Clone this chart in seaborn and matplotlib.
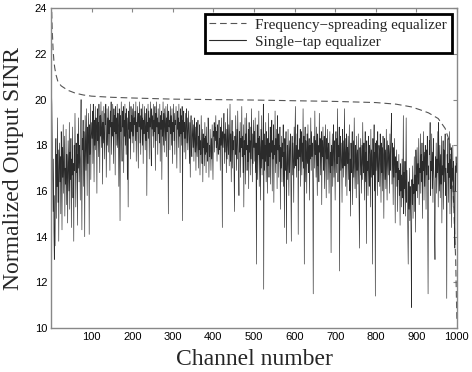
import numpy as np
import pandas as pd
import seaborn as sns
import matplotlib
matplotlib.use('Agg')
from matplotlib import pyplot as plt
from matplotlib.ticker import MultipleLocator

# frequency-spreading equalizer (dashed curve), read at selected channels
spread_ch = [1, 2, 3, 4, 5, 7, 9, 12, 17, 25, 41, 60, 80, 100, 150, 200, 300, 400, 500,
             600, 700, 800, 850, 888, 910, 930, 954, 971, 983, 991, 997, 1000]
spread_sinr = [24.3, 23.6, 23.0, 22.6, 22.2, 21.7, 21.4, 21.1, 20.78, 20.6, 20.41, 20.28, 20.2,
               20.15, 20.1, 20.07, 20.02, 20.0, 19.98, 19.95, 19.92, 19.87, 19.8, 19.68, 19.55,
               19.42, 19.17, 18.74, 18.1, 15.9, 13.0, 10.3]

# single-tap equalizer, one value per channel (blocks of 100 channels)
single_001 = [20.5, 19.8, 18.2, 16.5, 15.1, 17.4, 14.2, 13.0, 15.8, 13.6,
              16.9, 18.3, 14.8, 17.6, 16.2, 19.2, 15.5, 17.8, 13.8, 16.9,
              18.1, 16.4, 17.5, 15.0, 18.6, 17.2, 14.3, 17.9, 16.6, 18.9,
              15.9, 17.3, 18.4, 14.9, 17.0, 16.3, 18.7, 15.4, 17.6, 16.8,
              14.6, 18.2, 17.1, 16.0, 19.0, 15.2, 17.7, 16.5, 18.3, 14.4,
              17.4, 16.7, 18.8, 15.7, 17.2, 13.8, 18.0, 16.9, 19.4, 17.3,
              15.3, 18.1, 16.8, 17.6, 14.5, 18.5, 17.0, 19.2, 16.4, 18.0,
              17.4, 15.6, 18.7, 20.0, 17.1, 14.3, 18.3, 17.8, 19.1, 16.2,
              18.6, 17.5, 14.0, 19.3, 18.0, 16.9, 19.6, 17.7, 15.8, 18.8,
              17.2, 19.4, 18.1, 14.1, 18.9, 17.6, 19.8, 16.5, 18.4, 19.0]
single_101 = [18.3, 19.5, 17.2, 19.8, 18.6, 16.4, 19.1, 18.0, 19.7, 17.8,
              19.2, 18.5, 15.9, 19.6, 18.2, 19.0, 17.5, 19.8, 18.7, 16.8,
              19.3, 18.4, 19.9, 17.9, 18.8, 19.5, 16.3, 19.0, 18.1, 19.7,
              18.6, 17.4, 19.4, 18.9, 19.8, 16.6, 18.3, 19.6, 18.0, 19.2,
              17.7, 19.7, 18.5, 19.1, 16.9, 19.5, 18.8, 19.9, 17.6, 19.0,
              18.4, 19.8, 18.9, 17.2, 19.6, 18.6, 19.3, 16.7, 19.7, 18.5,
              19.2, 18.0, 19.8, 17.9, 19.4, 18.7, 16.2, 19.6, 18.9, 14.7,
              19.3, 18.6, 19.9, 18.2, 17.3, 19.5, 18.8, 19.7, 16.8, 19.1,
              18.4, 19.8, 18.0, 19.4, 17.6, 19.6, 18.9, 16.5, 19.2, 15.3,
              19.5, 18.7, 19.9, 18.3, 19.0, 17.4, 19.7, 18.6, 19.3, 18.1]
single_201 = [19.6, 18.4, 19.8, 17.7, 19.2, 18.9, 19.5, 18.2, 19.9, 17.3,
              19.0, 18.6, 19.7, 18.3, 17.0, 19.4, 18.8, 19.9, 18.1, 19.3,
              17.6, 19.6, 18.7, 19.2, 18.0, 19.8, 17.2, 19.1, 18.5, 19.7,
              18.9, 17.8, 19.4, 18.2, 19.6, 15.8, 19.0, 18.6, 19.8, 18.3,
              19.5, 17.4, 19.2, 18.8, 19.9, 18.0, 17.1, 19.6, 18.7, 19.3,
              18.4, 19.8, 17.9, 19.1, 18.6, 19.7, 16.9, 19.4, 18.2, 19.9,
              18.8, 19.2, 17.6, 19.6, 18.5, 19.0, 18.1, 19.8, 17.3, 19.3,
              18.7, 19.5, 16.5, 19.1, 18.4, 19.9, 18.0, 19.4, 17.7, 19.6,
              18.9, 18.2, 19.7, 17.5, 19.2, 18.6, 19.8, 18.3, 15.0, 19.5,
              18.8, 19.1, 17.8, 19.7, 18.5, 19.3, 18.0, 19.6, 17.2, 19.0]
single_301 = [18.6, 19.8, 18.2, 19.4, 17.6, 19.1, 18.9, 19.7, 18.3, 17.0,
              19.5, 18.7, 19.2, 17.9, 19.8, 18.4, 19.0, 16.8, 19.6, 18.5,
              19.3, 18.0, 19.7, 14.7, 19.1, 18.6, 19.5, 17.7, 19.0, 18.3,
              19.4, 17.4, 18.9, 19.6, 18.1, 19.2, 17.8, 18.7, 19.5, 18.4,
              17.2, 19.0, 16.6, 18.8, 19.3, 18.0, 17.5, 19.1, 18.5, 17.9,
              18.9, 17.3, 19.2, 18.3, 17.7, 18.8, 16.9, 19.0, 18.1, 17.5,
              18.6, 19.1, 17.0, 18.4, 17.8, 18.9, 16.7, 18.2, 17.6, 19.3,
              18.0, 17.2, 18.7, 16.4, 18.5, 17.9, 18.3, 17.1, 19.0, 17.6,
              18.4, 16.8, 18.8, 17.7, 18.1, 17.3, 19.2, 18.5, 16.6, 18.0,
              17.5, 18.7, 17.9, 16.9, 18.3, 17.4, 18.9, 17.8, 16.5, 18.6]
single_401 = [18.4, 19.0, 17.7, 18.8, 18.2, 19.3, 17.9, 18.6, 17.3, 18.9,
              18.1, 17.6, 18.7, 19.1, 17.8, 18.3, 16.9, 18.8, 18.0, 19.2,
              17.5, 14.4, 18.6, 17.9, 18.4, 19.4, 17.2, 18.5, 17.7, 19.0,
              18.2, 16.8, 18.7, 17.4, 19.6, 18.0, 17.6, 18.9, 17.1, 18.3,
              19.8, 17.3, 18.5, 16.4, 18.1, 19.1, 17.0, 18.6, 17.8, 18.2,
              16.5, 15.1, 18.4, 17.6, 19.3, 18.0, 16.9, 18.7, 17.4, 19.5,
              18.1, 17.2, 15.8, 18.6, 17.7, 19.0, 16.6, 18.3, 17.9, 19.7,
              17.5, 18.4, 16.8, 18.9, 15.3, 18.2, 17.6, 19.2, 16.3, 18.5,
              17.8, 19.4, 16.9, 18.0, 17.3, 18.7, 16.1, 19.0, 17.7, 18.2,
              16.7, 18.8, 17.4, 19.6, 18.0, 16.4, 18.5, 17.2, 19.1, 17.9]
single_501 = [18.6, 17.3, 19.2, 16.8, 18.1, 12.8, 17.7, 18.9, 16.5, 18.3,
              17.6, 19.5, 16.2, 18.4, 17.9, 15.6, 18.7, 17.0, 19.3, 16.7,
              18.2, 17.4, 19.8, 11.7, 18.5, 16.9, 18.0, 17.3, 19.0, 16.4,
              18.6, 17.8, 15.9, 18.3, 17.1, 19.4, 16.6, 18.1, 17.5, 18.8,
              16.3, 18.4, 17.7, 19.1, 16.0, 18.2, 17.4, 18.9, 15.5, 18.0,
              17.6, 19.5, 16.8, 18.3, 17.2, 18.7, 16.1, 19.3, 17.8, 18.5,
              16.6, 18.0, 17.3, 18.8, 15.2, 17.9, 17.0, 18.4, 16.4, 18.1,
              17.5, 18.9, 16.2, 17.7, 14.4, 18.3, 16.9, 17.6, 18.6, 13.7,
              17.2, 18.0, 16.5, 18.7, 17.4, 15.8, 18.2, 16.8, 17.9, 18.5,
              16.3, 13.8, 17.6, 18.4, 16.7, 18.1, 17.3, 15.5, 18.8, 17.0]
single_601 = [18.4, 19.7, 17.1, 18.0, 16.6, 18.5, 17.4, 18.9, 14.1, 17.8,
              16.9, 18.3, 17.5, 18.7, 16.2, 17.9, 18.6, 16.7, 18.1, 17.3,
              19.6, 17.0, 18.4, 12.8, 17.7, 18.8, 16.4, 18.2, 17.6, 15.9,
              18.5, 17.2, 18.9, 16.8, 17.8, 18.3, 15.6, 18.0, 17.4, 19.2,
              16.9, 18.6, 17.5, 18.1, 16.3, 11.5, 17.9, 18.4, 17.0, 19.5,
              17.6, 18.2, 16.6, 18.8, 17.3, 15.8, 18.5, 17.1, 18.0, 16.4,
              19.4, 17.7, 18.3, 16.7, 17.9, 18.6, 15.4, 18.2, 17.5, 18.8,
              16.9, 17.8, 18.4, 16.1, 17.6, 18.9, 17.2, 15.7, 18.3, 17.4,
              18.7, 16.5, 17.9, 18.1, 15.9, 17.3, 18.6, 16.8, 17.7, 13.3,
              18.0, 17.1, 18.5, 16.2, 17.8, 18.9, 16.6, 18.2, 17.4, 15.6]
single_701 = [17.9, 18.6, 16.8, 18.3, 17.2, 19.6, 16.4, 18.0, 17.5, 18.8,
              12.5, 17.7, 18.4, 16.9, 18.1, 17.3, 15.5, 18.7, 17.0, 18.2,
              16.6, 17.8, 19.6, 17.1, 18.3, 16.2, 17.6, 18.5, 15.8, 17.9,
              17.2, 18.4, 16.5, 17.7, 18.9, 16.0, 17.4, 14.9, 18.1, 16.8,
              17.5, 18.6, 15.4, 17.0, 18.2, 16.6, 19.2, 17.3, 16.1, 18.0,
              17.6, 15.7, 18.4, 16.9, 17.8, 16.3, 18.5, 17.1, 15.2, 13.5,
              17.9, 16.7, 18.3, 17.4, 15.9, 18.0, 16.5, 19.0, 17.2, 16.8,
              18.1, 15.6, 17.5, 18.6, 16.4, 17.7, 13.7, 18.2, 16.9, 17.3,
              15.8, 18.4, 17.0, 16.2, 18.0, 17.6, 15.3, 18.7, 16.6, 17.8,
              17.1, 12.8, 18.3, 16.7, 17.4, 18.9, 16.0, 17.7, 11.4, 18.1]
single_801 = [16.9, 18.2, 17.5, 15.8, 18.6, 17.1, 16.4, 18.0, 17.7, 16.2,
              18.5, 17.3, 15.5, 18.1, 16.8, 17.9, 16.0, 18.4, 17.2, 14.8,
              17.6, 18.3, 16.5, 17.8, 16.1, 18.7, 17.0, 15.6, 18.2, 17.4,
              16.7, 18.0, 17.6, 15.9, 18.5, 16.9, 17.7, 18.8, 19.4, 16.3,
              18.1, 17.2, 15.4, 17.9, 16.6, 18.3, 17.0, 14.6, 17.5, 16.8,
              17.8, 16.2, 17.3, 15.1, 17.0, 16.5, 17.6, 15.8, 16.9, 14.5,
              17.2, 16.0, 16.7, 15.3, 17.4, 15.7, 16.4, 19.3, 15.0, 16.8,
              16.1, 17.3, 14.9, 16.6, 19.2, 15.5, 16.9, 15.8, 14.3, 12.8,
              16.4, 15.2, 17.0, 14.7, 16.2, 15.6, 13.9, 10.9, 16.5, 15.4,
              17.1, 14.8, 16.3, 15.9, 17.5, 15.1, 16.7, 14.2, 17.8, 16.0]
single_901 = [16.6, 17.9, 15.7, 17.2, 16.3, 18.3, 15.4, 17.0, 16.8, 18.5,
              15.9, 17.6, 16.4, 18.1, 14.8, 17.3, 16.9, 18.6, 15.6, 17.7,
              16.2, 18.0, 17.4, 15.2, 17.8, 16.7, 18.4, 14.5, 11.5, 17.1,
              16.5, 18.2, 17.6, 19.0, 15.8, 17.3, 16.9, 18.5, 16.1, 17.7,
              15.5, 18.3, 17.0, 16.4, 14.2, 13.0, 17.5, 16.6, 18.1, 15.9,
              17.4, 16.8, 18.6, 15.3, 19.0, 17.2, 16.0, 18.0, 15.7, 17.6,
              16.3, 18.4, 14.6, 17.1, 16.7, 18.2, 15.2, 17.8, 16.4, 17.3,
              18.5, 15.8, 17.0, 16.2, 11.3, 17.6, 16.8, 18.3, 15.5, 17.2,
              16.6, 18.6, 15.0, 17.4, 16.1, 17.9, 14.4, 17.0, 16.5, 18.0,
              15.3, 17.3, 16.7, 14.6, 13.5, 17.1, 16.0, 17.5, 16.8, 17.2]

single_sinr = (single_001 + single_101 + single_201 + single_301 + single_401 +
               single_501 + single_601 + single_701 + single_801 + single_901)
single_ch = np.arange(1, len(single_sinr) + 1)

df_spread = pd.DataFrame({'channel': spread_ch, 'sinr': spread_sinr})
df_single = pd.DataFrame({'channel': single_ch, 'sinr': single_sinr})

sns.set_style('white')
plt.rcParams['font.family'] = ['Liberation Sans', 'DejaVu Sans']

fig = plt.figure(figsize=(4.72, 3.72), dpi=100)
ax = fig.add_axes([0.109, 0.118, 0.859, 0.860])

sns.lineplot(data=df_spread, x='channel', y='sinr', ax=ax, color='#555555', lw=0.8,
             label='Frequency\u2212spreading equalizer')
ax.lines[0].set_dashes([6, 3.5])
sns.lineplot(data=df_single, x='channel', y='sinr', ax=ax, color='#2b2b2b', lw=0.45,
             label='Single\u2212tap equalizer')

ax.set_xlim(1, 1000)
ax.set_ylim(10, 24)
ax.yaxis.set_major_locator(MultipleLocator(2))
ax.set_xticks(np.arange(100, 1001, 100))

for s in ax.spines.values():
    s.set_color('#888888')
    s.set_linewidth(1.0)
ax.tick_params(direction='in', length=3, width=0.8, color='#888888', labelsize=8,
               labelcolor='black', top=True, right=True, pad=3)

serif = ['Liberation Serif', 'DejaVu Serif']
ax.set_xlabel('Channel number', fontsize=17, family=serif, labelpad=5)
ax.set_ylabel('Normalized Output SINR', fontsize=17, family=serif, labelpad=8)

lg = ax.legend(loc='upper right', prop={'family': serif, 'size': 11}, fancybox=False,
               framealpha=1, edgecolor='black', borderaxespad=0.35, handlelength=2.4,
               labelspacing=0.2, borderpad=0.3, handletextpad=0.6)
lg.get_frame().set_linewidth(2.0)
lg.legend_handles[0].set_dashes([6, 3.5])
lg.legend_handles[1].set_linewidth(0.8)

fig.savefig('out.png', dpi=100)
